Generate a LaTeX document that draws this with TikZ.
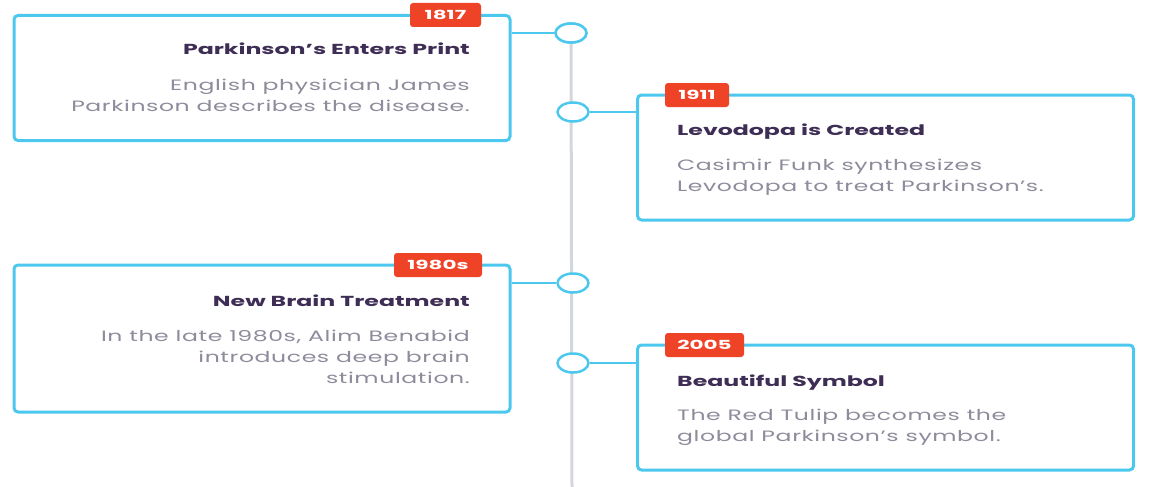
\documentclass[tikz,border=0pt]{standalone}
\usepackage{fontspec}
\usetikzlibrary{shapes.geometric}
\setmainfont{Poppins}
\newfontfamily\titlefont[FakeStretch=1.63]{Poppins}
\newfontfamily\badgefont[FakeStretch=1.72]{Poppins}
\newfontfamily\bodyfont[FakeStretch=1.57,LetterSpace=4]{Poppins}
\definecolor{cyanb}{HTML}{4CC8EE}
\definecolor{badgec}{HTML}{EE4327}
\definecolor{titlec}{HTML}{3E2D55}
\definecolor{bodyc}{HTML}{8E8C9C}
\definecolor{linec}{HTML}{D3D6DA}
\begin{document}
\begin{tikzpicture}[x=1pt,y=-1pt,
  card/.style={draw=cyanb, line width=3pt, rounded corners=4pt, fill=white, inner sep=0pt},
  badge/.style={fill=badgec, rounded corners=3pt, text=white, inner sep=0pt, minimum height=24pt,
    font=\badgefont\bfseries\fontsize{12.5}{14}\selectfont},
  dot/.style={ellipse, draw=cyanb, line width=2.5pt, fill=white, minimum width=31pt, minimum height=19pt, inner sep=0pt},
  conn/.style={draw=cyanb, line width=2.5pt},
  axis/.style={draw=linec, line width=3pt},
  ttl/.style={inner sep=0pt, text=titlec, font=\titlefont\bfseries\fontsize{14.5}{17}\selectfont},
  txt/.style={inner sep=0pt, text=bodyc, font=\bodyfont\fontsize{15}{18}\selectfont}]
\useasboundingbox (0,0) rectangle (1151,487);
% axis
\coordinate (axend) at (572,487);
\node[dot] (d1) at (571,33) {};
\draw[axis] (d1.south) -- (axend);
% cards
\node[card, minimum width=496pt, minimum height=125pt] (c1) at (262,78) {};
\node[card, minimum width=496pt, minimum height=125pt] (c2) at (885.5,157.5) {};
\node[card, minimum width=496pt, minimum height=147pt] (c3) at (262,338.5) {};
\node[card, minimum width=496pt, minimum height=125pt] (c4) at (885.5,407.5) {};
% dots
\node[dot] (d1) at (571,33) {};
\node[dot] (d2) at (573,112) {};
\node[dot] (d3) at (573,283) {};
\node[dot] (d4) at (573,363) {};
% connectors
\draw[conn] (d1.west) -- (d1.west -| c1.east);
\draw[conn] (d2.east) -- (d2.east -| c2.west);
\draw[conn] (d3.west) -- (d3.west -| c3.east);
\draw[conn] (d4.east) -- (d4.east -| c4.west);
% badges
\node[badge, minimum width=71pt] (b1) at (445.5,15) {1817};
\node[badge, minimum width=64pt] (b2) at (697,95) {1911};
\node[badge, minimum width=88pt] (b3) at (438,265) {1980s};
\node[badge, minimum width=79pt] (b4) at (704.5,345) {2005};
% texts
\node[ttl, anchor=base east] (t1) at (470,55) {Parkinson’s Enters Print};
\node[txt, anchor=base east] (t1a) at (470,90) {English physician James};
\node[txt, anchor=base east] (t1b) at (470,111) {Parkinson describes the disease.};
\node[ttl, anchor=base west] (t2) at (677,135) {Levodopa is Created};
\node[txt, anchor=base west] (t2a) at (677,170) {Casimir Funk synthesizes};
\node[txt, anchor=base west] (t2b) at (677,191) {Levodopa to treat Parkinson’s.};
\node[ttl, anchor=base east] (t3) at (470,306) {New Brain Treatment};
\node[txt, anchor=base east] (t3a) at (470,341) {In the late 1980s, Alim Benabid};
\node[txt, anchor=base east] (t3b) at (470,362) {introduces deep brain};
\node[txt, anchor=base east] (t3c) at (470,383) {stimulation.};
\node[ttl, anchor=base west] (t4) at (677,386) {Beautiful Symbol};
\node[txt, anchor=base west] (t4a) at (677,420) {The Red Tulip becomes the};
\node[txt, anchor=base west] (t4b) at (677,441) {global Parkinson’s symbol.};
\end{tikzpicture}
\end{document}
